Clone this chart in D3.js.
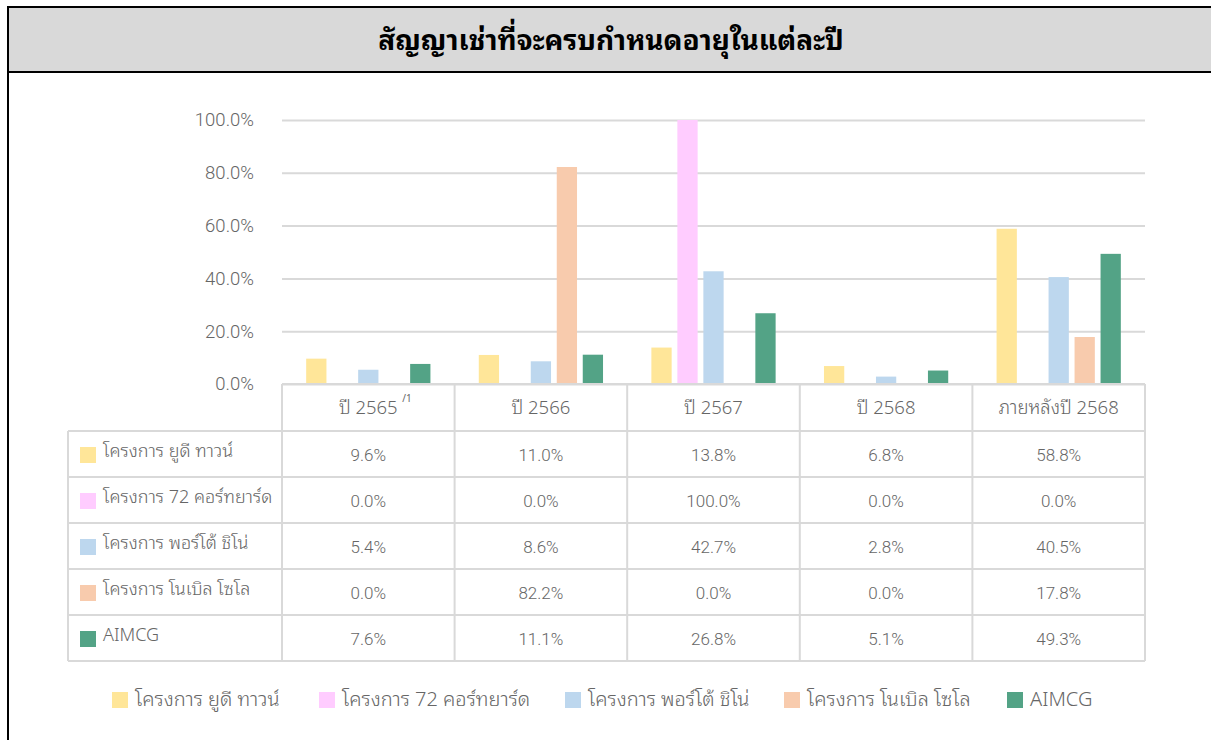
<!DOCTYPE html>
<html><head><meta charset="utf-8">
<script src="https://cdn.jsdelivr.net/npm/d3@7"></script>
<style>
html,body{margin:0;padding:0;background:#fff;}
svg{display:block;font-family:"Noto Sans Thai Looped","Noto Sans Thai","Noto Sans","Open Sans",sans-serif;}
</style></head>
<body><svg id="c" width="1211" height="740"></svg>
<script>
const categories = ["ปี 2565", "ปี 2566", "ปี 2567", "ปี 2568", "ภายหลังปี 2568"];
const seriesNames = ["โครงการ ยูดี ทาวน์", "โครงการ 72 คอร์ทยาร์ด", "โครงการ พอร์โต้ ชิโน่", "โครงการ โนเบิล โซโล", "AIMCG"];
const udTown = [9.6, 11.0, 13.8, 6.8, 58.8];
const courtyard72 = [0.0, 0.0, 100.0, 0.0, 0.0];
const portoChino = [5.4, 8.6, 42.7, 2.8, 40.5];
const nobleSolo = [0.0, 82.2, 0.0, 0.0, 17.8];
const aimcg = [7.6, 11.1, 26.8, 5.1, 49.3];
const yTicks = [0, 20, 40, 60, 80, 100];
const colors = ["#ffe699", "#ffccff", "#bdd7ee", "#f8cbad", "#53a386"];

(function () {
const series = [udTown, courtyard72, portoChino, nobleSolo, aimcg];
const svg = d3.select("#c");
const textColor = "#666666";
const lineColor = "#d9d9d9";
const numFont = "Roboto, 'Liberation Sans', sans-serif";

svg.append("rect").attr("x", 8).attr("y", 7).attr("width", 1215).attr("height", 65)
  .attr("fill", "#d9d9d9").attr("stroke", "#000").attr("stroke-width", 2);
svg.append("line").attr("x1", 8).attr("x2", 8).attr("y1", 7).attr("y2", 740)
  .attr("stroke", "#000").attr("stroke-width", 2);
svg.append("text").attr("x", 611).attr("y", 50).attr("text-anchor", "middle")
  .attr("font-size", 28).attr("font-weight", "bold").attr("fill", "#000")
  .text("สัญญาเช่าที่จะครบกำหนดอายุในแต่ละปี");

const pLeft = 282, pRight = 1145, pTop = 120, pBottom = 384;
const x = d3.scaleBand().domain(categories).range([pLeft, pRight]);
const y = d3.scaleLinear().domain([0, 100]).range([pBottom, pTop]);
const xs = d3.scaleBand().domain(d3.range(series.length)).range([0, x.bandwidth()])
  .paddingInner(0.22).paddingOuter(0.93);

const yAxis = d3.axisLeft(y).tickValues(yTicks).tickFormat(d => d.toFixed(1) + "%")
  .tickSize(-(pRight - pLeft)).tickPadding(28);
const ga = svg.append("g").attr("transform", `translate(${pLeft},0)`).call(yAxis);
ga.select(".domain").remove();
ga.selectAll(".tick line").attr("stroke", lineColor).attr("stroke-width", 2);
ga.selectAll(".tick text").attr("fill", textColor).attr("font-size", 18.5)
  .attr("font-weight", 300).attr("font-family", numFont);

series.forEach((vals, si) => {
  svg.append("g").selectAll("rect").data(vals).join("rect")
    .attr("x", (d, i) => x(categories[i]) + xs(si))
    .attr("width", xs.bandwidth())
    .attr("y", d => y(d))
    .attr("height", d => pBottom - y(d))
    .attr("fill", colors[si]);
});

const tLeft = 68, headerH = 47, rowH = 46;
const rowsTop = pBottom + headerH;
const tg = svg.append("g");
const lineAttrs = sel => sel.attr("stroke", lineColor).attr("stroke-width", 2);
lineAttrs(tg.append("line").attr("x1", pLeft).attr("x2", pRight).attr("y1", pBottom).attr("y2", pBottom));
for (let r = 0; r <= series.length; r++) {
  const yy = rowsTop + r * rowH;
  lineAttrs(tg.append("line").attr("x1", tLeft).attr("x2", pRight).attr("y1", yy).attr("y2", yy));
}
lineAttrs(tg.append("line").attr("x1", tLeft).attr("x2", tLeft).attr("y1", rowsTop).attr("y2", rowsTop + series.length * rowH));
categories.forEach(c => {
  lineAttrs(tg.append("line").attr("x1", x(c)).attr("x2", x(c)).attr("y1", pBottom).attr("y2", rowsTop + series.length * rowH));
});
lineAttrs(tg.append("line").attr("x1", pRight).attr("x2", pRight).attr("y1", pBottom).attr("y2", rowsTop + series.length * rowH));

categories.forEach((c, i) => {
  tg.append("text").attr("x", x(c) + x.bandwidth() / 2).attr("y", pBottom + 30)
    .attr("text-anchor", "middle").attr("font-size", 18.5).attr("font-weight", 300)
    .attr("fill", textColor).text(c);
  if (i === 0) {
    tg.append("text").attr("x", x(c) + x.bandwidth() / 2 + 34).attr("y", pBottom + 18)
      .attr("font-size", 10).attr("fill", textColor).text("/1");
  }
});
series.forEach((vals, si) => {
  const yy = rowsTop + si * rowH;
  tg.append("rect").attr("x", 80).attr("y", yy + 16).attr("width", 16).attr("height", 16).attr("fill", colors[si]);
  tg.append("text").attr("x", 103).attr("y", yy + 26).attr("font-size", 18).attr("font-weight", 300)
    .attr("fill", textColor).text(seriesNames[si]);
  vals.forEach((v, i) => {
    tg.append("text").attr("x", x(categories[i]) + x.bandwidth() / 2).attr("y", yy + 30)
      .attr("text-anchor", "middle").attr("font-size", 17).attr("font-weight", 300)
      .attr("fill", textColor).attr("font-family", numFont)
      .text(v.toFixed(1) + "%");
  });
});

const legendX = [112, 319, 565, 784, 1007];
const lg = svg.append("g");
seriesNames.forEach((n, i) => {
  lg.append("rect").attr("x", legendX[i]).attr("y", 692).attr("width", 16).attr("height", 16).attr("fill", colors[i]);
  lg.append("text").attr("x", legendX[i] + 23).attr("y", 706).attr("font-size", 20).attr("font-weight", 300)
    .attr("fill", textColor).text(n);
});
})();
</script></body></html>
